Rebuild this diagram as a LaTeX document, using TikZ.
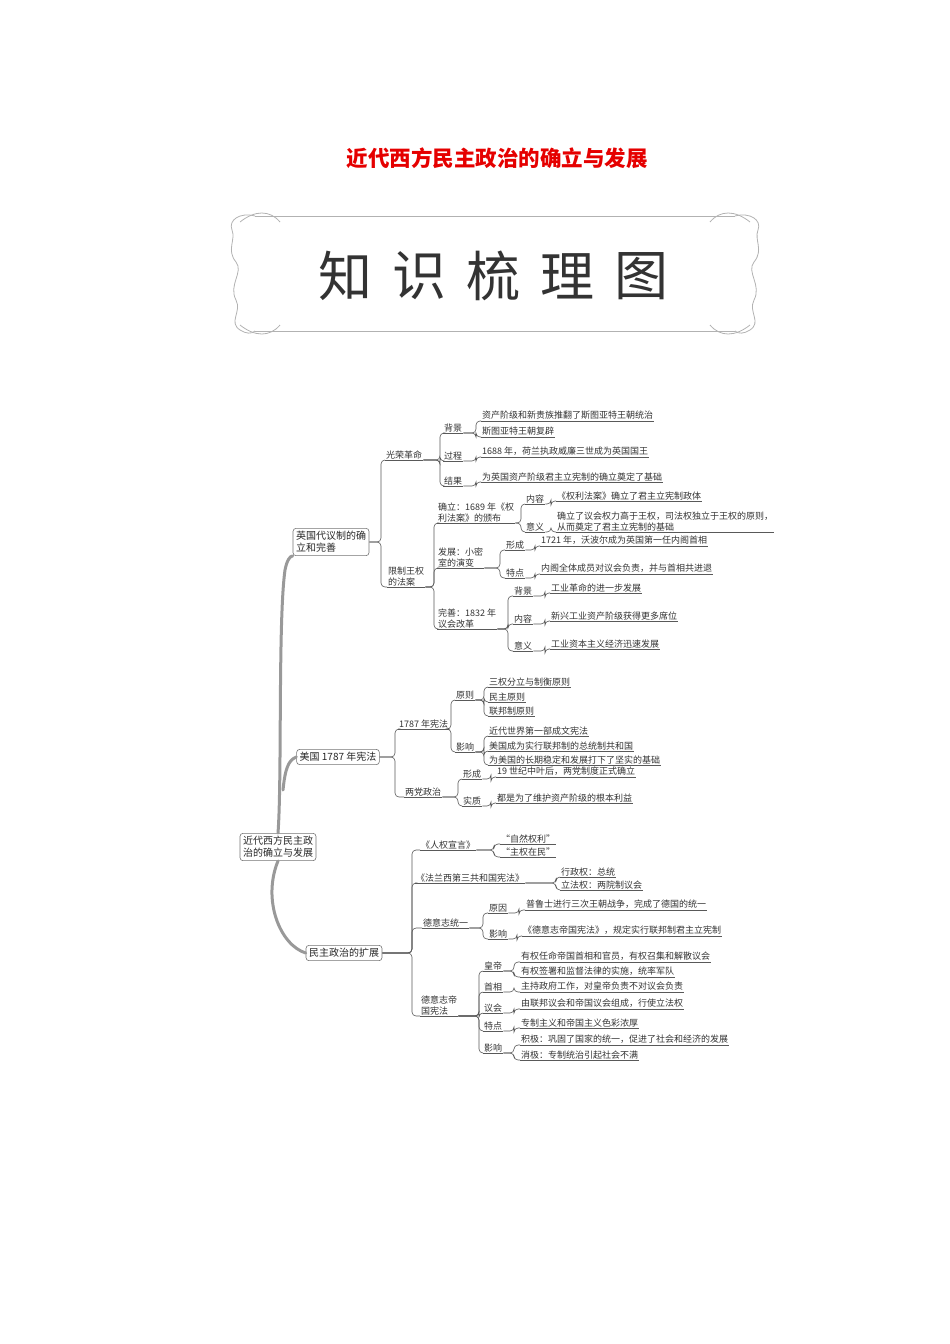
\documentclass[tikz,border=0pt]{standalone}
\usepackage{fontspec}
\setmainfont{Noto Sans CJK SC}
\usetikzlibrary{calc}
\tikzset{
  lf/.style={inner sep=1pt,font=\fontsize{9}{10.5}\selectfont,text=black!80},
  ul/.style={draw=black!65,line width=0.6pt},
  cl/.style={draw=black!65,line width=0.6pt,rounded corners=4pt},
  bx/.style={draw=black!55,rounded corners=3pt,inner sep=3pt,font=\fontsize{10}{12}\selectfont,align=left,text=black!85,line width=0.6pt},
  trunk/.style={draw=black!40,line width=3pt,line cap=round},
  frame/.style={draw=black!30,line width=0.8pt}
}
\newcommand\lf[4]{\node[lf,anchor=south west,align=left] (#1) at (#2,#3) {#4}; \draw[ul] (#1.south west) -- (#1.south east);}
\newcommand\cn[3]{\coordinate (tmpf) at (#3,0); \draw[cl] (#1.south east) -- (#1.south east -| tmpf) |- (#2.south west);}
\newcommand\cb[3]{\coordinate (tmpf) at (#3,0); \draw[cl] (#1.east) -- (#1.east -| tmpf) |- (#2.south west);}
\begin{document}
\begin{tikzpicture}[x=1pt,y=-1pt]
\useasboundingbox (0,0) rectangle (950,1344);
% title
\node[text=red!90!black,font=\fontsize{21.5}{23}\selectfont\bfseries] (title) at (497,158) {近代西方民主政治的确立与发展};
% banner
\draw[frame] (255,216) -- (735,216);
\draw[frame] (255,331) -- (735,331);
\draw[frame] (255,216) .. controls (240,212) and (228,220) .. (232,230) .. controls (236,240) and (226,250) .. (236,262) .. controls (244,272) and (228,285) .. (236,300) .. controls (242,312) and (228,322) .. (240,330) .. controls (246,334) and (252,334) .. (255,331);
\draw[frame] (735,216) .. controls (750,212) and (762,220) .. (758,230) .. controls (754,240) and (764,250) .. (754,262) .. controls (746,272) and (762,285) .. (754,300) .. controls (748,312) and (762,322) .. (750,330) .. controls (744,334) and (738,334) .. (735,331);
\draw[frame] (240,222) .. controls (255,210) and (270,210) .. (280,222);
\draw[frame] (750,222) .. controls (735,210) and (720,210) .. (710,222);
\draw[frame] (240,325) .. controls (255,337) and (270,337) .. (280,325);
\draw[frame] (750,325) .. controls (735,337) and (720,337) .. (710,325);
\foreach \c/\x in {知/345,识/419,梳/493,理/567,图/641}
  \node[font=\fontsize{54}{56}\selectfont,text=black!80] (ban\x) at (\x,276) {\c};
% boxes
\node[bx] (root) at (278,847) {近代西方民主政\\治的确立与发展};
\node[bx] (uk) at (331,542) {英国代议制的确\\立和完善};
\node[bx] (us) at (338,757) {美国 1787 年宪法};
\node[bx] (fr) at (344,953) {民主政治的扩展};
% trunk
\draw[trunk] (root.north) .. controls (282,780) and (278,620) .. (285,570) .. controls (287,560) and (290,556) .. (uk.south west);
\draw[trunk] (283,790) .. controls (285,770) and (288,760) .. (us.west);
\draw[trunk] (root.south) .. controls (262,900) and (280,945) .. (fr.west);
% ===== UK =====
\lf{grr}{385}{460}{光荣革命}
\lf{xz}{387}{587}{限制王权\\的法案}
\cb{uk}{grr}{381} \cb{uk}{xz}{381}
\lf{bj1}{443}{433}{背景}
\lf{gc1}{443}{461}{过程}
\lf{jg1}{443}{486}{结果}
\cn{grr}{bj1}{440} \cn{grr}{gc1}{440} \cn{grr}{jg1}{440}
\lf{l1}{481}{421}{资产阶级和新贵族推翻了斯图亚特王朝统治}
\lf{l2}{481}{437}{斯图亚特王朝复辟}
\cn{bj1}{l1}{476} \cn{bj1}{l2}{476}
\lf{l3}{481}{457}{1688 年，荷兰执政威廉三世成为英国国王}
\cn{gc1}{l3}{476}
\lf{l4}{481}{482}{为英国资产阶级君主立宪制的确立奠定了基础}
\cn{jg1}{l4}{476}
\lf{ql}{437}{523}{确立：1689 年《权\\利法案》的颁布}
\lf{fz}{437}{568}{发展：小密\\室的演变}
\lf{ws}{437}{629}{完善：1832 年\\议会改革}
\cn{xz}{ql}{434} \cn{xz}{fz}{434} \cn{xz}{ws}{434}
\lf{nr1}{525}{504}{内容}
\lf{yy1}{525}{532}{意义}
\cn{ql}{nr1}{521} \cn{ql}{yy1}{521}
\lf{l5}{556}{501}{《权利法案》确立了君主立宪制政体}
\cn{nr1}{l5}{551}
\lf{l6}{556}{532}{确立了议会权力高于王权，司法权独立于王权的原则，\\从而奠定了君主立宪制的基础}
\cn{yy1}{l6}{551}
\lf{xc1}{505}{550}{形成}
\lf{td1}{505}{578}{特点}
\cn{fz}{xc1}{500} \cn{fz}{td1}{500}
\lf{l7}{540}{546}{1721 年，沃波尔成为英国第一任内阁首相}
\cn{xc1}{l7}{535}
\lf{l8}{540}{574}{内阁全体成员对议会负责，并与首相共进退}
\cn{td1}{l8}{535}
\lf{bj2}{513}{596}{背景}
\lf{nr2}{513}{624}{内容}
\lf{yy2}{513}{651}{意义}
\cn{ws}{bj2}{508} \cn{ws}{nr2}{508} \cn{ws}{yy2}{508}
\lf{l9}{550}{593}{工业革命的进一步发展}
\cn{bj2}{l9}{545}
\lf{l10}{550}{621}{新兴工业资产阶级获得更多席位}
\cn{nr2}{l10}{545}
\lf{l11}{550}{649}{工业资本主义经济迅速发展}
\cn{yy2}{l11}{545}
% ===== US =====
\lf{xf}{398}{729}{1787 年宪法}
\lf{ld}{404}{797}{两党政治}
\cb{us}{xf}{395} \cb{us}{ld}{395}
\lf{yz}{455}{700}{原则}
\lf{yx1}{455}{752}{影响}
\cn{xf}{yz}{451} \cn{xf}{yx1}{451}
\lf{u1}{488}{687}{三权分立与制衡原则}
\lf{u2}{488}{702}{民主原则}
\lf{u3}{488}{716}{联邦制原则}
\cn{yz}{u1}{484} \cn{yz}{u2}{484} \cn{yz}{u3}{484}
\lf{u4}{488}{736}{近代世界第一部成文宪法}
\lf{u5}{488}{751}{美国成为实行联邦制的总统制共和国}
\lf{u6}{488}{765}{为美国的长期稳定和发展打下了坚实的基础}
\cn{yx1}{u4}{484} \cn{yx1}{u5}{484} \cn{yx1}{u6}{484}
\lf{xc2}{462}{779}{形成}
\lf{sz}{462}{806}{实质}
\cn{ld}{xc2}{458} \cn{ld}{sz}{458}
\lf{u7}{496}{777}{19 世纪中叶后，两党制度正式确立}
\cn{xc2}{u7}{491}
\lf{u8}{496}{803}{都是为了维护资产阶级的根本利益}
\cn{sz}{u8}{491}
% ===== expansion =====
\lf{rq}{420}{850}{《人权宣言》}
\lf{fl}{415}{883}{《法兰西第三共和国宪法》}
\lf{dy}{422}{928}{德意志统一}
\lf{dx}{420}{1016}{德意志帝\\国宪法}
\cb{fr}{rq}{412} \cb{fr}{fl}{412} \cb{fr}{dy}{412} \cb{fr}{dx}{412}
\lf{f1}{500}{844}{“自然权利”}
\lf{f2}{500}{857}{“主权在民”}
\cn{rq}{f1}{494} \cn{rq}{f2}{494}
\lf{f3}{560}{877}{行政权：总统}
\lf{f4}{560}{890}{立法权：两院制议会}
\cn{fl}{f3}{556} \cn{fl}{f4}{556}
\lf{yy3}{488}{913}{原因}
\lf{yx2}{488}{939}{影响}
\cn{dy}{yy3}{483} \cn{dy}{yx2}{483}
\lf{f5}{525}{910}{普鲁士进行三次王朝战争，完成了德国的统一}
\cn{yy3}{f5}{519}
\lf{f6}{522}{936}{《德意志帝国宪法》，规定实行联邦制君主立宪制}
\cn{yx2}{f6}{517}
\lf{hd}{483}{971}{皇帝}
\lf{sx}{483}{992}{首相}
\lf{yh}{483}{1013}{议会}
\lf{td2}{483}{1031}{特点}
\lf{yx3}{483}{1053}{影响}
\cn{dx}{hd}{479} \cn{dx}{sx}{479} \cn{dx}{yh}{479} \cn{dx}{td2}{479} \cn{dx}{yx3}{479}
\lf{g1}{520}{962}{有权任命帝国首相和官员，有权召集和解散议会}
\lf{g2}{520}{977}{有权签署和监督法律的实施，统率军队}
\cn{hd}{g1}{514} \cn{hd}{g2}{514}
\lf{g3}{520}{992}{主持政府工作，对皇帝负责不对议会负责}
\cn{sx}{g3}{514}
\lf{g4}{520}{1009}{由联邦议会和帝国议会组成，行使立法权}
\cn{yh}{g4}{514}
\lf{g5}{520}{1028}{专制主义和帝国主义色彩浓厚}
\cn{td2}{g5}{514}
\lf{g6}{520}{1045}{积极：巩固了国家的统一，促进了社会和经济的发展}
\lf{g7}{520}{1060}{消极：专制统治引起社会不满}
\cn{yx3}{g6}{514} \cn{yx3}{g7}{514}
\end{tikzpicture}
\end{document}
